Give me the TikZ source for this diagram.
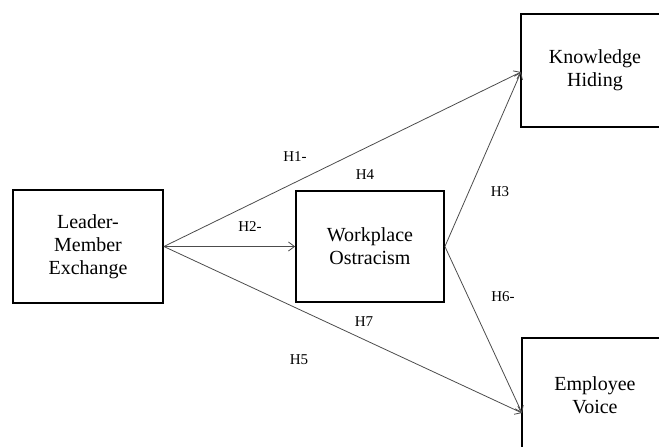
\documentclass[tikz,border=0pt]{standalone}
\usepackage{fontspec}
\setmainfont{Liberation Serif}
\usetikzlibrary{arrows.meta}
\begin{document}
\begin{tikzpicture}[x=1pt,y=1pt,
  box/.style={draw=black,line width=1.8pt,minimum width=#1,align=center,
    font=\fontsize{20}{23}\selectfont,inner sep=0pt},
  box/.default=150pt,
  link/.style={draw=black!70,line width=0.8pt,
    -{Straight Barb[length=6pt,width=9pt,line width=0.8pt]}},
  lab/.style={font=\fontsize{15}{17}\selectfont,inner sep=0pt}]
\useasboundingbox (0,0) rectangle (659,-447);
\clip (0,0) rectangle (659,-447);
\node[box=150pt,minimum height=113pt] (lmx) at (88,-246.5) {Leader-\\Member\\Exchange};
\node[box=148pt,minimum height=111pt] (wo) at (370,-246.5) {Workplace\\Ostracism};
\node[box=148pt,minimum height=113pt] (kh) at (595,-70.5) {Knowledge\\Hiding};
\node[box=148pt,minimum height=150pt,text depth=0pt] (ev) at (596,-413) {};
\node[font=\fontsize{20}{23}\selectfont,align=center,inner sep=0pt] (evt) at (595,-395) {Employee\\Voice};
\coordinate (khin) at (521,-72);
\coordinate (evin) at (522,-413);
\draw[link] (lmx.east) -- (khin);
\draw[link] (lmx.east) -- (wo.west);
\draw[link] (lmx.east) -- (evin);
\draw[link] (wo.east) -- (khin);
\draw[link] (wo.east) -- (evin);
\node[lab] (h1) at (295,-157) {H1-};
\node[lab] (h4) at (365,-175) {H4};
\node[lab] (h2) at (250,-227) {H2-};
\node[lab] (h3) at (500,-192) {H3};
\node[lab] (h6) at (503,-297) {H6-};
\node[lab] (h7) at (364,-322) {H7};
\node[lab] (h5) at (299,-360) {H5};
\end{tikzpicture}
\end{document}
